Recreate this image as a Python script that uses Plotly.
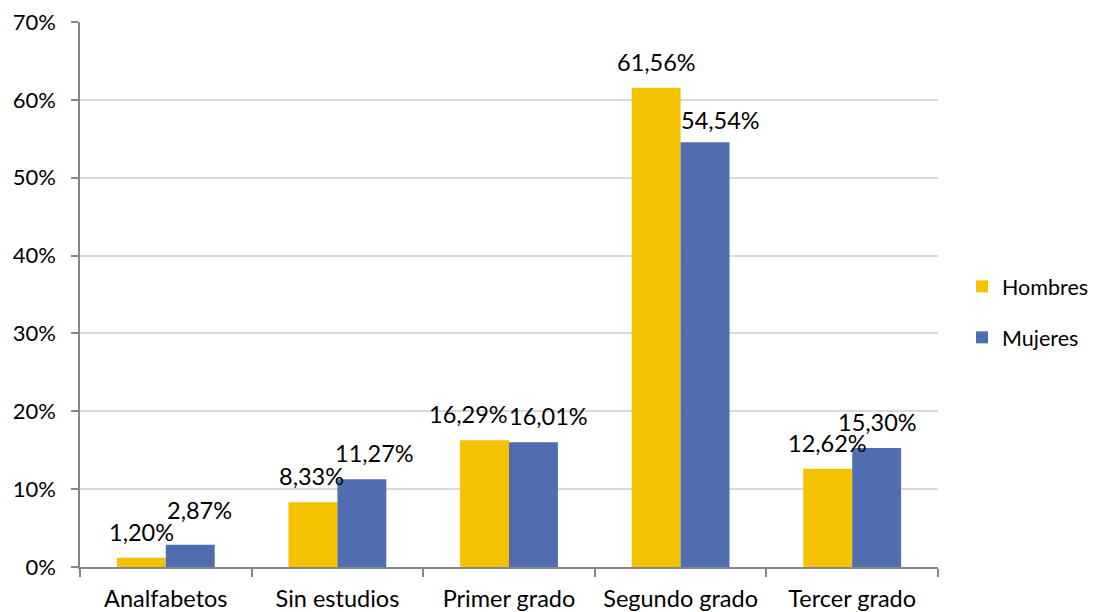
import plotly.graph_objects as go

categories = ["Analfabetos", "Sin estudios", "Primer grado", "Segundo grado", "Tercer grado"]
hombres = [1.20, 8.33, 16.29, 61.56, 12.62]
mujeres = [2.87, 11.27, 16.01, 54.54, 15.30]
y_ticks = [0, 10, 20, 30, 40, 50, 60, 70]
y_tick_text = [f"{t}%" for t in y_ticks]

# small label nudges (px) as in the reference layout
h_dx = [0, -1, -16, 0, 0]
m_dx = [9, 13, 15, 15, 1]
m_dy = [9, 0, 0, -4, 0]

FONT = "Lato"
FS = 23.5
FS_Y = 22
FS_LEG = 21.5
C_H = "#F5C200"
C_M = "#506DB0"

W, H = 1100, 612
# page body has an 8px margin, so the figure is drawn offset by (8, 8)
ML, MR, MT, MB = 72, 170, 14, 53
BARGAP = 0.43

def fmt(v):
    return f"{v:.2f}".replace(".", ",") + "%"

fig = go.Figure()
fig.add_trace(go.Bar(name="Hombres", x=categories, y=hombres, marker_color=C_H,
                     marker_line_width=0, legendgroup="h"))
fig.add_trace(go.Bar(name="Mujeres", x=categories, y=mujeres, marker_color=C_M,
                     marker_line_width=0, legendgroup="m"))

cat_px = (W - ML - MR) / len(categories)
half = (1 - BARGAP) * cat_px / 4  # centre offset of each bar within the pair

for cat, v, dx in zip(categories, hombres, h_dx):
    fig.add_annotation(x=cat, y=v, text=fmt(v), showarrow=False, xref="x", yref="y",
                       xshift=-half + dx, yshift=10, yanchor="bottom",
                       font=dict(family=FONT, size=FS, color="#000000"))
for cat, v, dx, dy in zip(categories, mujeres, m_dx, m_dy):
    fig.add_annotation(x=cat, y=v, text=fmt(v), showarrow=False, xref="x", yref="y",
                       xshift=half + dx, yshift=10 + dy, yanchor="bottom",
                       font=dict(family=FONT, size=FS, color="#000000"))

fig.update_layout(
    width=W, height=H,
    margin=dict(l=ML, r=MR, t=MT, b=MB, autoexpand=False),
    paper_bgcolor="white", plot_bgcolor="white",
    barmode="group", bargap=BARGAP, bargroupgap=0,
    font=dict(family=FONT, size=FS, color="#000000"),
    legend=dict(x=1.028, y=0.468, xanchor="left", yanchor="middle",
                font=dict(family=FONT, size=FS_LEG), tracegroupgap=20,
                traceorder="grouped", bgcolor="rgba(0,0,0,0)"),
    showlegend=True,
)
fig.update_xaxes(showline=True, linecolor="#868686", linewidth=1.5,
                 ticks="outside", tickson="boundaries", ticklen=8, tickcolor="#868686",
                 tickwidth=1.5, showgrid=False, ticklabelstandoff=10, automargin=False,
                 ticklabeloverflow="allow",
                 tickfont=dict(family=FONT, size=FS))
fig.update_yaxes(range=[0, 70], tickvals=y_ticks, ticktext=y_tick_text,
                 showline=True, linecolor="#868686", linewidth=1.5,
                 ticks="outside", ticklen=7, tickcolor="#868686", tickwidth=1.5,
                 showgrid=True, gridcolor="#D9D9D9", gridwidth=1.5,
                 zeroline=False, ticklabelstandoff=11, automargin=False,
                 ticklabeloverflow="allow",
                 tickfont=dict(family=FONT, size=FS_Y))

fig.write_html("out.html")
